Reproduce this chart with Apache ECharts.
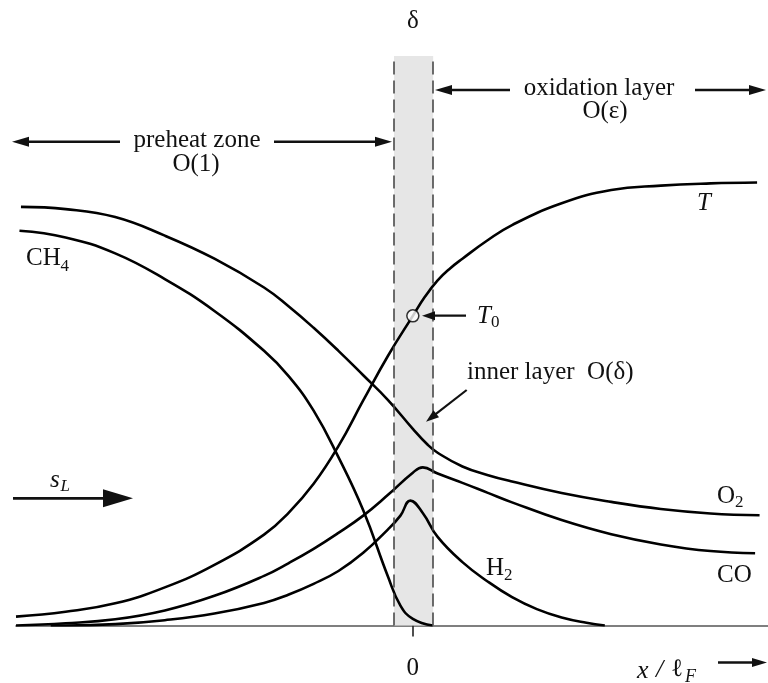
<!DOCTYPE html>
<html>
<head>
<meta charset="utf-8">
<script src="https://cdn.jsdelivr.net/npm/echarts@6/dist/echarts.min.js"></script>
<style>
  html, body { margin: 0; padding: 0; background: #fff; }
  #chart { width: 768px; height: 683px; }
</style>
</head>
<body>
<div id="chart"></div>
<script>
// Structure of a stoichiometric methane flame: normalised profiles along x / l_F.
// x = 0 is the inner reaction layer; profile values are scaled so the burnt temperature is 1.

const TEMP = [
  [-8, 0.020], [-7, 0.031], [-6, 0.050], [-5, 0.086], [-4, 0.137], [-3, 0.205],
  [-2.5, 0.255], [-2, 0.320], [-1.5, 0.405], [-1, 0.508], [-0.5, 0.609], [0, 0.699],
  [0.25, 0.743], [0.5, 0.779], [0.75, 0.806], [1, 0.828], [1.5, 0.869], [2, 0.904],
  [3, 0.953], [4, 0.983], [5, 0.993], [6, 0.998], [6.94, 1.000]
];

const CH4 = [
  [-7.93, 0.891], [-7, 0.876], [-6, 0.840], [-5, 0.782], [-4, 0.710], [-3, 0.620],
  [-2.5, 0.5625], [-2, 0.485], [-1.5, 0.380], [-1, 0.260], [-0.5, 0.110], [-0.25, 0.045],
  [0, 0.015], [0.4, 0.000]
];

const O2 = [
  [-7.9, 0.945], [-7, 0.940], [-6, 0.922], [-5, 0.880], [-4, 0.828], [-3, 0.763],
  [-2.5, 0.720], [-2, 0.672], [-1.5, 0.620], [-1, 0.565], [-0.5, 0.509], [0, 0.444],
  [0.3, 0.408], [0.5, 0.390], [1, 0.359], [1.5, 0.340], [2, 0.325], [3, 0.299],
  [4, 0.279], [5, 0.263], [6, 0.253], [6.99, 0.249]
];

const CO = [
  [-8, 0.000], [-7, 0.005], [-6, 0.014], [-5, 0.034], [-4, 0.067], [-3, 0.112],
  [-2.5, 0.141], [-2, 0.173], [-1.5, 0.209], [-1, 0.248], [-0.5, 0.295], [0, 0.345],
  [0.2, 0.357], [0.5, 0.343], [1, 0.322], [1.5, 0.300], [2, 0.278], [3, 0.238],
  [4, 0.206], [5, 0.183], [6, 0.168], [6.9, 0.163]
];

const H2 = [
  [-7.3, 0.000], [-7, 0.000], [-6, 0.003], [-5, 0.012], [-4, 0.027], [-3, 0.051],
  [-2.5, 0.070], [-2, 0.094], [-1.5, 0.123], [-1, 0.164], [-0.5, 0.217], [-0.25, 0.248],
  [-0.05, 0.282], [0.2, 0.254], [0.5, 0.200], [1, 0.143], [1.5, 0.100], [2, 0.064],
  [2.5, 0.037], [3, 0.018], [3.5, 0.006], [3.87, 0.000]
];

// inner-layer temperature marked on the T profile at x = 0
const T0_POINT = [[0, 0.699]];

// extent of the inner layer of thickness O(delta)
const INNER_LAYER = [-0.38, 0.41];

const X_TICKS = [0];
const X_RANGE = [-8, 7.16];
const Y_TOP = 1.2856;

const SERIF = '"Liberation Serif", "Times New Roman", "DejaVu Serif", serif';
const INK = '#111';

function txt(text, x, y, opts) {
  opts = opts || {};
  const size = opts.size || 25;
  const italic = opts.italic ? 'italic ' : '';
  const align = opts.align || 'left';
  return {
    type: 'text',
    z: 100,
    x: x,
    y: y,
    style: {
      text: text,
      font: italic + size + 'px ' + (opts.family || SERIF),
      fill: INK,
      align: align,
      textAlign: align,
      verticalAlign: 'middle',
      textVerticalAlign: 'middle'
    }
  };
}

function arrow(x1, y1, x2, y2, headLen, headHalf, width) {
  const dx = x2 - x1, dy = y2 - y1;
  const len = Math.sqrt(dx * dx + dy * dy);
  const ux = dx / len, uy = dy / len;
  const bx = x2 - ux * headLen, by = y2 - uy * headLen;
  const px = -uy, py = ux;
  return [
    {
      type: 'line', z: 100,
      shape: { x1: x1, y1: y1, x2: bx + ux * 2, y2: by + uy * 2 },
      style: { stroke: INK, lineWidth: width }
    },
    {
      type: 'polygon', z: 100,
      shape: { points: [[x2, y2], [bx + px * headHalf, by + py * headHalf], [bx - px * headHalf, by - py * headHalf]] },
      style: { fill: INK }
    }
  ];
}

const chart = echarts.init(document.getElementById('chart'), null, { renderer: 'canvas' });

const curveStyle = { color: '#000', width: 2.6 };
function curve(name, data) {
  return {
    name: name,
    type: 'line',
    data: data,
    smooth: 0.45,
    symbol: 'none',
    showSymbol: false,
    lineStyle: curveStyle,
    z: 3,
    silent: true
  };
}

const graphics = [].concat(
  // delta above the inner layer
  [txt('δ', 413, 21, { align: 'center' })],
  // oxidation layer
  [txt('oxidation layer', 599, 88, { align: 'center' }), txt('O(ε)', 605, 111, { align: 'center' })],
  arrow(510, 90, 435, 90, 17, 5, 2.6),
  arrow(695, 90, 766, 90, 17, 5, 2.6),
  // preheat zone
  [txt('preheat zone', 197, 140, { align: 'center' }), txt('O(1)', 196, 164, { align: 'center' })],
  arrow(120, 141.7, 12, 141.7, 17, 5, 2.6),
  arrow(274, 141.7, 392, 141.7, 17, 5, 2.6),
  // curve labels
  [txt('T', 704, 203, { align: 'center', italic: true })],
  [txt('CH', 26, 258), txt('4', 60.5, 267, { size: 17 })],
  [txt('T', 477, 316, { italic: true }), txt('0', 491, 323, { size: 17 })],
  arrow(466, 315.7, 422, 315.7, 13, 4.5, 2.2),
  [txt('inner layer  O(δ)', 467, 372)],
  arrow(466.7, 390, 426, 421.7, 13, 4.5, 2.2),
  [txt('s', 50, 480, { italic: true }), txt('L', 60.5, 487, { size: 17, italic: true })],
  arrow(13, 498.3, 133, 498.3, 30, 9, 2.7),
  [txt('O', 717, 496), txt('2', 735, 503, { size: 17 })],
  [txt('CO', 717, 575)],
  [txt('H', 486, 568), txt('2', 504, 576, { size: 17 })],
  // axis title
  [
    txt('x', 637, 671, { italic: true, size: 26 }),
    txt('/', 656, 670, { italic: true, size: 26 }),
    txt('ℓ', 671, 669, { size: 25, family: '"DejaVu Serif", serif' }),
    txt('F', 685, 677, { italic: true, size: 18 })
  ],
  arrow(718, 662.5, 767, 662.5, 15, 4.5, 2.6)
);

const option = {
  animation: false,
  backgroundColor: '#fff',
  grid: { left: 16, right: 0, top: 56, bottom: 57.5, containLabel: false, outerBoundsMode: 'none' },
  xAxis: {
    type: 'value',
    min: X_RANGE[0],
    max: X_RANGE[1],
    axisLine: { show: true, onZero: false, lineStyle: { color: '#555', width: 1.6 } },
    axisTick: { show: true, customValues: X_TICKS, length: 11, lineStyle: { color: '#222', width: 1.6 } },
    axisLabel: {
      show: true,
      customValues: X_TICKS,
      margin: 30,
      fontFamily: SERIF,
      fontSize: 25,
      color: INK
    },
    splitLine: { show: false }
  },
  yAxis: { type: 'value', min: 0, max: Y_TOP, show: false },
  series: [
    {
      name: 'inner layer',
      type: 'line',
      data: [],
      z: 1,
      silent: true,
      markArea: {
        silent: true,
        itemStyle: { color: '#e6e6e6' },
        data: [[{ xAxis: INNER_LAYER[0] }, { xAxis: INNER_LAYER[1] }]]
      },
      markLine: {
        silent: true,
        symbol: ['none', 'none'],
        label: { show: false },
        lineStyle: { type: [13, 6], color: '#4a4a4a', width: 1.6 },
        data: [{ xAxis: INNER_LAYER[0] }, { xAxis: INNER_LAYER[1] }]
      }
    },
    curve('T', TEMP),
    curve('CH4', CH4),
    curve('O2', O2),
    curve('CO', CO),
    curve('H2', H2),
    {
      name: 'T0',
      type: 'scatter',
      data: T0_POINT,
      symbol: 'circle',
      symbolSize: 12,
      z: 5,
      silent: true,
      itemStyle: { color: '#fff', borderColor: '#000', borderWidth: 1.5 }
    }
  ],
  graphic: graphics
};

chart.setOption(option);
</script>
</body>
</html>
